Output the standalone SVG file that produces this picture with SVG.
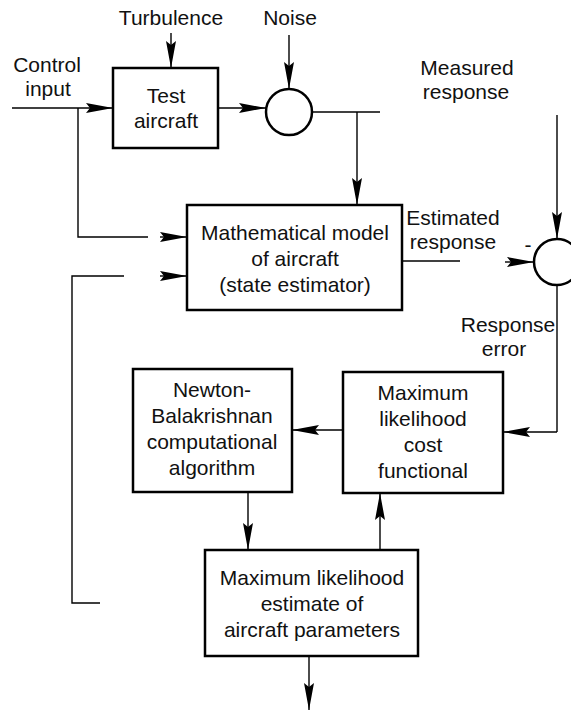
<svg xmlns="http://www.w3.org/2000/svg" width="571" height="712" viewBox="0 0 571 712">
<style>
  .box { fill: #fff; stroke: #000; stroke-width: 2.5; }
  .sum { fill: #fff; stroke: #000; stroke-width: 2.5; }
  .ln { fill: none; stroke: #000; stroke-width: 1.4; }
  .arr { marker-end: url(#ah); }
  text { font-family: "Liberation Sans", Arial, sans-serif; font-size: 21px; fill: #111; text-anchor: middle; }
</style>
<defs>
  <marker id="ah" markerUnits="userSpaceOnUse" viewBox="0 0 27 10" refX="27" refY="5" markerWidth="27" markerHeight="10" orient="auto">
    <path d="M0,0 L27,5 L0,10 L4,5 Z" fill="#000"/>
  </marker>
</defs>
<rect width="571" height="712" fill="#fff"/>

<g id="connectors">
  <path class="ln arr" d="M171,33 V68"/>
  <path class="ln arr" d="M289,35 V89"/>
  <path class="ln arr" d="M12,108 H113"/>
  <path class="ln" d="M78,108 V237 H148"/>
  <path class="ln arr" d="M160,237 H187"/>
  <path class="ln arr" d="M218,108 H266"/>
  <path class="ln" d="M312,112 H380"/>
  <path class="ln arr" d="M357,112 V205"/>
  <path class="ln" d="M402,261 H460"/>
  <path class="ln arr" d="M505,262 H534"/>
  <path class="ln arr" d="M557,115 V239"/>
  <path class="ln" d="M557,285 V432"/>
  <path class="ln arr" d="M557,432 H503"/>
  <path class="ln arr" d="M343,430 H292"/>
  <path class="ln arr" d="M248,492 V550"/>
  <path class="ln arr" d="M380,550 V493"/>
  <path class="ln arr" d="M309,656 V710"/>
  <path class="ln" d="M100,603 H72 V276 H124"/>
  <path class="ln arr" d="M160,276 H187"/>
</g>

<g id="label-turbulence"><text x="171" y="25">Turbulence</text></g>
<g id="label-noise"><text x="290" y="25">Noise</text></g>
<g id="label-control"><text x="47" y="72">Control</text><text x="48" y="96">input</text></g>
<g id="label-measured"><text x="467" y="75">Measured</text><text x="466" y="99">response</text></g>
<g id="label-estimated"><text x="453" y="225">Estimated</text><text x="453" y="249">response</text></g>
<g id="label-minus"><text x="528" y="252">-</text></g>
<g id="label-error"><text x="508" y="332">Response</text><text x="504" y="356">error</text></g>

<g id="test-aircraft">
  <rect class="box" x="113" y="68" width="105" height="80"/>
  <text x="166" y="103">Test</text>
  <text x="166" y="128">aircraft</text>
</g>
<g id="noise-sum">
  <circle class="sum" cx="289" cy="112" r="23"/>
</g>
<g id="math-model">
  <rect class="box" x="187" y="205" width="215" height="105"/>
  <text x="295" y="240">Mathematical model</text>
  <text x="295" y="266">of aircraft</text>
  <text x="295" y="292">(state estimator)</text>
</g>
<g id="error-sum">
  <circle class="sum" cx="557" cy="262" r="23"/>
</g>
<g id="cost-functional">
  <rect class="box" x="343" y="372" width="160" height="121"/>
  <text x="423" y="400">Maximum</text>
  <text x="423" y="426">likelihood</text>
  <text x="423" y="452">cost</text>
  <text x="423" y="478">functional</text>
</g>
<g id="newton">
  <rect class="box" x="133" y="369" width="159" height="123"/>
  <text x="212" y="397">Newton-</text>
  <text x="212" y="423">Balakrishnan</text>
  <text x="212" y="449">computational</text>
  <text x="212" y="475">algorithm</text>
</g>
<g id="ml-estimate">
  <rect class="box" x="205" y="550" width="213" height="106"/>
  <text x="312" y="585">Maximum likelihood</text>
  <text x="312" y="611">estimate of</text>
  <text x="312" y="637">aircraft parameters</text>
</g>
</svg>
